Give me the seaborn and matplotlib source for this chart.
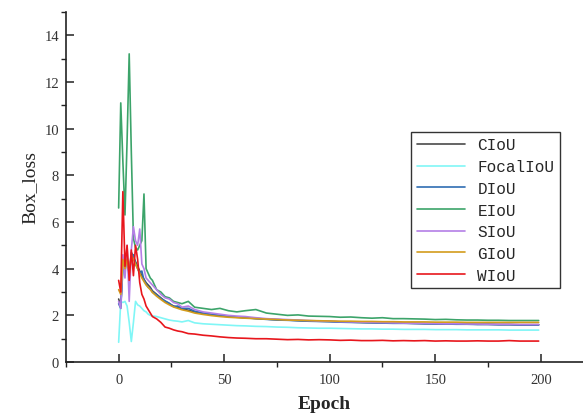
import matplotlib
matplotlib.use("Agg")
import matplotlib.pyplot as plt
from matplotlib.ticker import MultipleLocator
import seaborn as sns

sns.set_theme(style="white")
plt.rcParams["font.family"] = ["Liberation Serif", "DejaVu Serif"]

epochs = [0, 1, 2, 3, 4, 5, 6, 7, 8, 9, 10, 11, 12, 13, 14, 15, 16,
          18, 20, 22, 24, 26, 28, 30, 33, 36,
          40, 44, 48, 52, 56, 60,
          65, 70, 75, 80, 85, 90, 95, 100, 105, 110, 115, 120, 125, 130,
          135, 140, 145, 150, 155, 160, 165, 170, 175, 180, 185, 190, 195, 199]

ciou = [2.7, 2.4, 4.2, 3.9, 4.5, 3.7, 4.7, 4.5, 4.3, 4.1, 3.9, 3.7, 3.55, 3.4, 3.3, 3.2, 3.05,
        2.9, 2.75, 2.6, 2.5, 2.4, 2.35, 2.28, 2.22, 2.15,
        2.08, 2.03, 1.98, 1.95, 1.92, 1.9,
        1.87, 1.84, 1.82, 1.8, 1.78, 1.76, 1.75, 1.74, 1.72, 1.71, 1.7, 1.69, 1.68, 1.67,
        1.67, 1.66, 1.65, 1.65, 1.64, 1.63, 1.63, 1.62, 1.62, 1.61, 1.61, 1.6, 1.6, 1.6]

focal = [0.85, 2.6, 2.55, 2.6, 2.4, 1.7, 0.88, 1.7, 2.6, 2.45, 2.4, 2.3, 2.2, 2.15, 2.05, 2.0, 1.98,
         1.95, 1.9, 1.85, 1.8, 1.77, 1.75, 1.72, 1.78, 1.68,
         1.64, 1.62, 1.6, 1.58, 1.56, 1.55,
         1.53, 1.52, 1.5, 1.49, 1.47, 1.46, 1.45, 1.45, 1.44, 1.43, 1.42, 1.42, 1.41, 1.41,
         1.4, 1.4, 1.4, 1.39, 1.39, 1.39, 1.38, 1.38, 1.38, 1.38, 1.37, 1.37, 1.37, 1.37]

diou = [2.5, 2.3, 4.0, 4.2, 4.3, 3.8, 4.5, 4.6, 4.2, 4.0, 3.8, 3.9, 3.5, 3.35, 3.2, 3.15, 3.0,
        2.88, 2.72, 2.62, 2.52, 2.38, 2.4, 2.3, 2.3, 2.18,
        2.1, 2.04, 2.0, 1.96, 1.93, 1.9,
        1.86, 1.83, 1.8, 1.79, 1.77, 1.75, 1.74, 1.73, 1.71, 1.7, 1.69, 1.68, 1.67, 1.66,
        1.66, 1.65, 1.64, 1.63, 1.63, 1.62, 1.62, 1.61, 1.61, 1.6, 1.6, 1.59, 1.59, 1.59]

eiou = [6.6, 11.1, 8.6, 6.3, 9.5, 13.2, 9.0, 5.3, 4.9, 4.8, 5.0, 5.2, 7.2, 4.0, 3.8, 3.6, 3.5,
        3.1, 3.0, 2.8, 2.75, 2.6, 2.55, 2.5, 2.6, 2.35,
        2.3, 2.25, 2.3, 2.2, 2.15, 2.2,
        2.25, 2.1, 2.05, 2.0, 2.02, 1.97, 1.96, 1.95, 1.92, 1.93, 1.9, 1.88, 1.9, 1.86,
        1.86, 1.85, 1.84, 1.82, 1.83, 1.81, 1.8, 1.8, 1.79, 1.79, 1.78, 1.78, 1.78, 1.78]

siou = [2.6, 2.3, 4.6, 3.6, 5.0, 2.6, 4.8, 5.8, 5.2, 5.0, 5.7, 4.2, 4.0, 3.6, 3.5, 3.4, 3.3,
        3.1, 2.9, 2.75, 2.7, 2.55, 2.5, 2.35, 2.4, 2.25,
        2.15, 2.1, 2.05, 2.0, 1.97, 1.95,
        1.9, 1.86, 1.84, 1.82, 1.8, 1.78, 1.76, 1.75, 1.73, 1.72, 1.71, 1.7, 1.69, 1.68,
        1.67, 1.66, 1.66, 1.65, 1.64, 1.64, 1.63, 1.63, 1.62, 1.62, 1.62, 1.61, 1.61, 1.61]

giou = [3.1, 2.9, 4.4, 4.0, 4.4, 3.8, 4.6, 4.4, 4.2, 4.0, 3.8, 3.6, 3.45, 3.3, 3.2, 3.1, 2.98,
        2.82, 2.68, 2.55, 2.45, 2.36, 2.3, 2.24, 2.18, 2.1,
        2.04, 1.99, 1.95, 1.92, 1.9, 1.88,
        1.86, 1.84, 1.82, 1.8, 1.79, 1.78, 1.77, 1.76, 1.75, 1.75, 1.74, 1.74, 1.73, 1.73,
        1.72, 1.72, 1.72, 1.71, 1.71, 1.71, 1.7, 1.7, 1.7, 1.7, 1.7, 1.7, 1.7, 1.7]

wiou = [3.5, 3.0, 7.3, 4.1, 5.0, 3.5, 4.8, 3.7, 5.0, 4.4, 3.4, 2.9, 2.7, 2.4, 2.25, 2.1, 1.95,
        1.85, 1.7, 1.5, 1.45, 1.38, 1.33, 1.3, 1.22, 1.2,
        1.15, 1.12, 1.08, 1.05, 1.03, 1.02,
        1.0, 1.0, 0.98, 0.96, 0.97, 0.95, 0.96, 0.95, 0.93, 0.94, 0.92, 0.92, 0.93, 0.91,
        0.92, 0.91, 0.92, 0.9, 0.91, 0.9, 0.9, 0.91, 0.9, 0.9, 0.92, 0.9, 0.9, 0.9]

series = [
    ("CIoU", ciou, "#4a4a4a"),
    ("FocalIoU", focal, "#80f6f6"),
    ("DIoU", diou, "#2f6db3"),
    ("EIoU", eiou, "#3ca46a"),
    ("SIoU", siou, "#b47fe6"),
    ("GIoU", giou, "#d39c1c"),
    ("WIoU", wiou, "#e8161c"),
]

fig = plt.figure(figsize=(5.83, 4.14), dpi=100)
ax = fig.add_axes([0.113, 0.123, 0.887, 0.846])

for name, vals, color in series:
    sns.lineplot(x=epochs, y=vals, ax=ax, color=color, lw=1.2, label=name)

ax.set_xlim(-25, 220)
ax.set_ylim(0, 15)
ax.xaxis.set_major_locator(MultipleLocator(50))
ax.xaxis.set_minor_locator(MultipleLocator(25))
ax.yaxis.set_major_locator(MultipleLocator(2))
ax.yaxis.set_minor_locator(MultipleLocator(1))
ax.set_yticks([0, 2, 4, 6, 8, 10, 12, 14])

for side in ["top", "right"]:
    ax.spines[side].set_visible(False)
for side in ["left", "bottom"]:
    ax.spines[side].set_color("#222222")
    ax.spines[side].set_linewidth(1.2)

ax.tick_params(which="both", bottom=True, left=True, top=False, right=False)
ax.tick_params(which="major", direction="in", length=6, width=1.1,
               labelsize=10.5, colors="#222222", labelcolor="#333333")
ax.tick_params(which="minor", direction="out", length=3.5, width=1.0, colors="#222222")
ax.tick_params(axis="x", which="major", pad=8)
ax.tick_params(axis="y", which="major", pad=5)
ax.grid(False)

ax.set_xlabel("Epoch", fontsize=14, fontweight="bold", labelpad=6)
ax.set_ylabel("Box_loss", fontsize=14, labelpad=4)

leg = ax.legend(loc="upper left", bbox_to_anchor=(0.705, 0.679),
                bbox_transform=fig.transFigure, borderaxespad=0,
                prop={"family": ["Liberation Mono"], "size": 11.5},
                handlelength=3.0, labelspacing=0.42, handletextpad=0.8,
                borderpad=0.35, fancybox=False, framealpha=1)
leg.get_frame().set_edgecolor("#333333")
leg.get_frame().set_linewidth(1.0)

fig.savefig("out.png", dpi=100)
